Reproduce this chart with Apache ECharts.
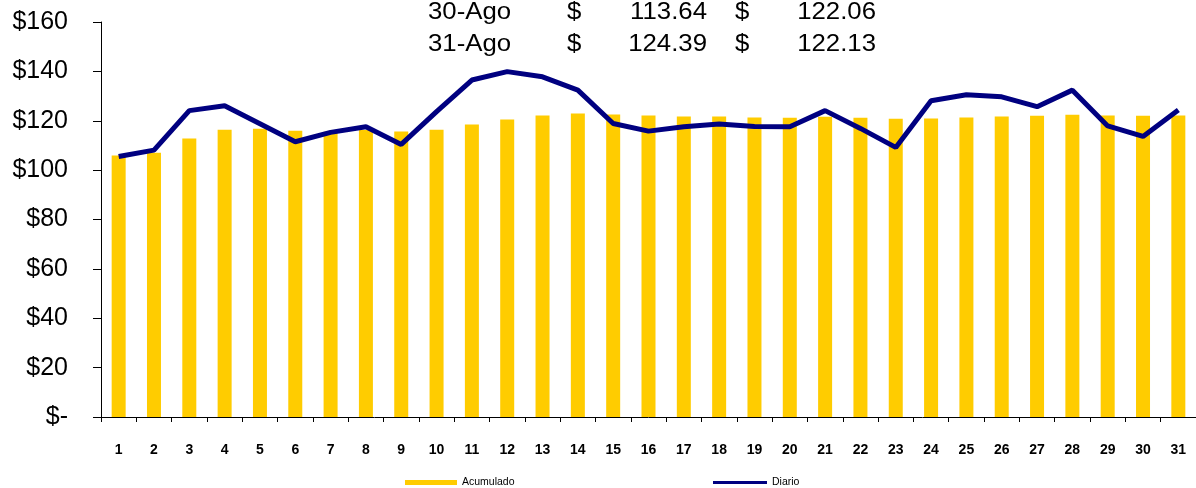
<!DOCTYPE html>
<html>
<head>
<meta charset="utf-8">
<script src="https://cdn.jsdelivr.net/npm/echarts@6/dist/echarts.min.js"></script>
<style>
html,body{margin:0;padding:0;background:#fff;}
#chart{width:1196px;height:488px;}
</style>
</head>
<body>
<div id="chart"></div>
<script>
var days = ['1','2','3','4','5','6','7','8','9','10','11','12','13','14','15','16','17','18','19','20','21','22','23','24','25','26','27','28','29','30','31'];
var acumulado = [105.9,107.0,112.8,116.4,116.8,115.9,115.5,116.3,115.6,116.4,118.5,120.5,122.1,122.9,122.5,122.1,121.7,121.7,121.3,121.2,121.6,121.2,120.8,120.9,121.3,121.7,122.0,122.4,122.1,122.06,122.13];
var diario = [105.5,108.1,124.1,126.1,118.8,111.5,115.3,117.6,110.4,123.7,136.5,139.9,137.8,132.4,118.9,115.8,117.6,118.7,117.7,117.6,124.1,116.9,109.2,128.1,130.5,129.7,125.7,132.4,117.9,113.64,124.39];
var yTicks = [0,20,40,60,80,100,120,140,160];
var headerRows = [
  ['30-Ago','$','113.64','$','122.06'],
  ['31-Ago','$','124.39','$','122.13']
];

var chart = echarts.init(document.getElementById('chart'));
var font = 'Arial, "Liberation Sans", sans-serif';
var graphics = [];
headerRows.forEach(function(r, i){
  var y = 13 + i*32;
  function t(x, txt, align){
    graphics.push({type:'text', x:x, y:y, scaleX:1.12, scaleY:1,
      style:{text:txt, fontSize:23, fontFamily:font, fill:'#000', align:align, verticalAlign:'middle'}});
  }
  t(428, r[0], 'left');
  t(567, r[1], 'left');
  t(707, r[2], 'right');
  t(735, r[3], 'left');
  t(876, r[4], 'right');
});

chart.setOption({
  animation:false,
  backgroundColor:'#fff',
  grid:{left:101, top:22, width:1098, height:395, containLabel:false},
  legend:[
    {data:['Acumulado'], left:400, top:472, itemWidth:52, itemHeight:5, itemGap:6, icon:'rect',
     textStyle:{fontSize:10.5, fontFamily:font, color:'#000'}},
    {data:['Diario'], left:708, top:472, itemWidth:54, itemHeight:3, itemGap:5, icon:'rect',
     textStyle:{fontSize:10.5, fontFamily:font, color:'#000'}}
  ],
  graphic:graphics,
  xAxis:{
    type:'category', data:days, boundaryGap:true,
    axisLine:{lineStyle:{color:'#000', width:1}},
    axisTick:{show:true, length:5, lineStyle:{color:'#000'}, alignWithLabel:false},
    axisLabel:{fontSize:14, fontWeight:'bold', fontFamily:font, color:'#000', margin:26}
  },
  yAxis:{
    type:'value', min:0, max:160, interval:20,
    axisLine:{show:true, lineStyle:{color:'#000', width:1}},
    axisTick:{show:true, length:8, lineStyle:{color:'#000'}},
    splitLine:{show:false},
    axisLabel:{fontSize:25, fontFamily:font, color:'#000', margin:33,
      formatter:function(v){ return v===0 ? '$-' : '$'+v; }}
  },
  series:[
    {name:'Acumulado', type:'bar', data:acumulado, barWidth:14,
     itemStyle:{color:'#FFCC00'}},
    {name:'Diario', type:'line', data:diario, symbol:'none',
     lineStyle:{color:'#000080', width:5}, itemStyle:{color:'#000080'}}
  ]
});
</script>
</body>
</html>
